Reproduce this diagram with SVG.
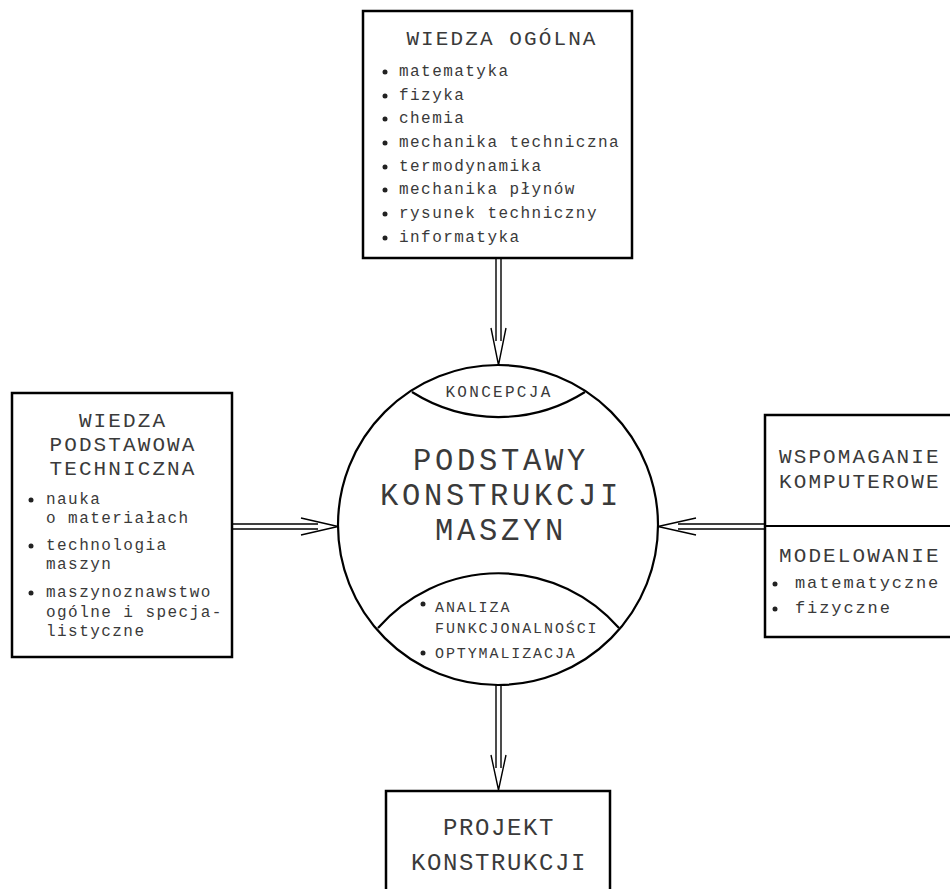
<svg xmlns="http://www.w3.org/2000/svg" width="950" height="889" viewBox="0 0 950 889">
<style>
.box{fill:#fff;stroke:#000;stroke-width:2.5}
.ln{fill:none;stroke:#000;stroke-width:2.2}
.ar{fill:none;stroke:#000;stroke-width:1.4}
text{font-family:"Liberation Mono","Courier New",monospace;fill:#3a3a3a}
.t21{font-size:21px;letter-spacing:2.1px}
.t16{font-size:16px;letter-spacing:1.45px}
.t17{font-size:17px;letter-spacing:1.9px}
.c{text-anchor:middle}
.b{fill:#222}
</style>
<rect width="950" height="889" fill="#fff"/>
<g id="connectors">
<path class="ar" d="M496,258V341M501,258V341M491,328L498.5,365L506,328"/>
<path class="ar" d="M496,685V768M501,685V768M491,755L498.5,790L506,755"/>
<path class="ar" d="M232,524H318M232,529H318M301,518L338,526.5L301,535"/>
<path class="ar" d="M765,524H678M765,529H678M696,518L658,526.5L696,535"/>
</g>
<g id="wiedza-ogolna">
<rect class="box" x="363" y="11" width="269" height="247"/>
<text class="t21 c" x="502" y="45">WIEDZA OGÓLNA</text>
<g class="t16">
<circle class="b" cx="385" cy="72" r="2.5"/><text x="399" y="76">matematyka</text>
<circle class="b" cx="385" cy="96" r="2.5"/><text x="399" y="100">fizyka</text>
<circle class="b" cx="385" cy="119" r="2.5"/><text x="399" y="123">chemia</text>
<circle class="b" cx="385" cy="143" r="2.5"/><text x="399" y="147">mechanika techniczna</text>
<circle class="b" cx="385" cy="167" r="2.5"/><text x="399" y="171">termodynamika</text>
<circle class="b" cx="385" cy="190" r="2.5"/><text x="399" y="194">mechanika płynów</text>
<circle class="b" cx="385" cy="214" r="2.5"/><text x="399" y="218">rysunek techniczny</text>
<circle class="b" cx="385" cy="238" r="2.5"/><text x="399" y="242">informatyka</text>
</g>
</g>
<g id="wiedza-podstawowa">
<rect class="box" x="12" y="393" width="220" height="264"/>
<text class="t21 c" x="123" y="427">WIEDZA</text>
<text class="t21 c" x="123" y="451">PODSTAWOWA</text>
<text class="t21 c" x="123" y="475">TECHNICZNA</text>
<g class="t16">
<circle class="b" cx="31" cy="500" r="2.5"/><text x="46" y="504">nauka</text>
<text x="46" y="523">o materiałach</text>
<circle class="b" cx="31" cy="546" r="2.5"/><text x="46" y="550">technologia</text>
<text x="46" y="569">maszyn</text>
<circle class="b" cx="31" cy="593" r="2.5"/><text x="46" y="597">maszynoznawstwo</text>
<text x="46" y="617">ogólne i specja-</text>
<text x="46" y="636">listyczne</text>
</g>
</g>
<g id="wspomaganie">
<rect class="box" x="765" y="415" width="200" height="222"/>
<line class="ln" x1="765" y1="526" x2="950" y2="526" stroke-width="2.5"/>
<text class="t21" x="779" y="463">WSPOMAGANIE</text>
<text class="t21" x="779" y="488">KOMPUTEROWE</text>
<text class="t21" x="779" y="562">MODELOWANIE</text>
<g class="t17">
<circle class="b" cx="775" cy="584" r="2.5"/><text x="795" y="588">matematyczne</text>
<circle class="b" cx="775" cy="609" r="2.5"/><text x="795" y="613">fizyczne</text>
</g>
</g>
<g id="podstawy">
<circle cx="498" cy="525" r="160" fill="#fff" stroke="#000" stroke-width="2.2"/>
<path class="ln" d="M412,392A162,162 0 0 0 585,392"/>
<path class="ln" d="M378,628A160,160 0 0 1 619,628"/>
<text class="c" x="499" y="397" style="font-size:16px;letter-spacing:2.3px">KONCEPCJA</text>
<g style="font-size:30.5px;letter-spacing:3.7px">
<text class="c" x="501" y="470">PODSTAWY</text>
<text class="c" x="501" y="505">KONSTRUKCJI</text>
<text class="c" x="501" y="540">MASZYN</text>
</g>
<g style="font-size:15px;letter-spacing:1.9px">
<circle class="b" cx="423" cy="604" r="2.5"/><text x="435" y="612">ANALIZA</text>
<text x="435" y="633">FUNKCJONALNOŚCI</text>
<circle class="b" cx="423" cy="653" r="2.5"/><text x="435" y="658">OPTYMALIZACJA</text>
</g>
</g>
<g id="projekt">
<rect class="box" x="386" y="791" width="224" height="120"/>
<g style="font-size:24px;letter-spacing:1.6px">
<text class="c" x="499" y="835">PROJEKT</text>
<text class="c" x="499" y="870">KONSTRUKCJI</text>
</g>
</g>
</svg>
